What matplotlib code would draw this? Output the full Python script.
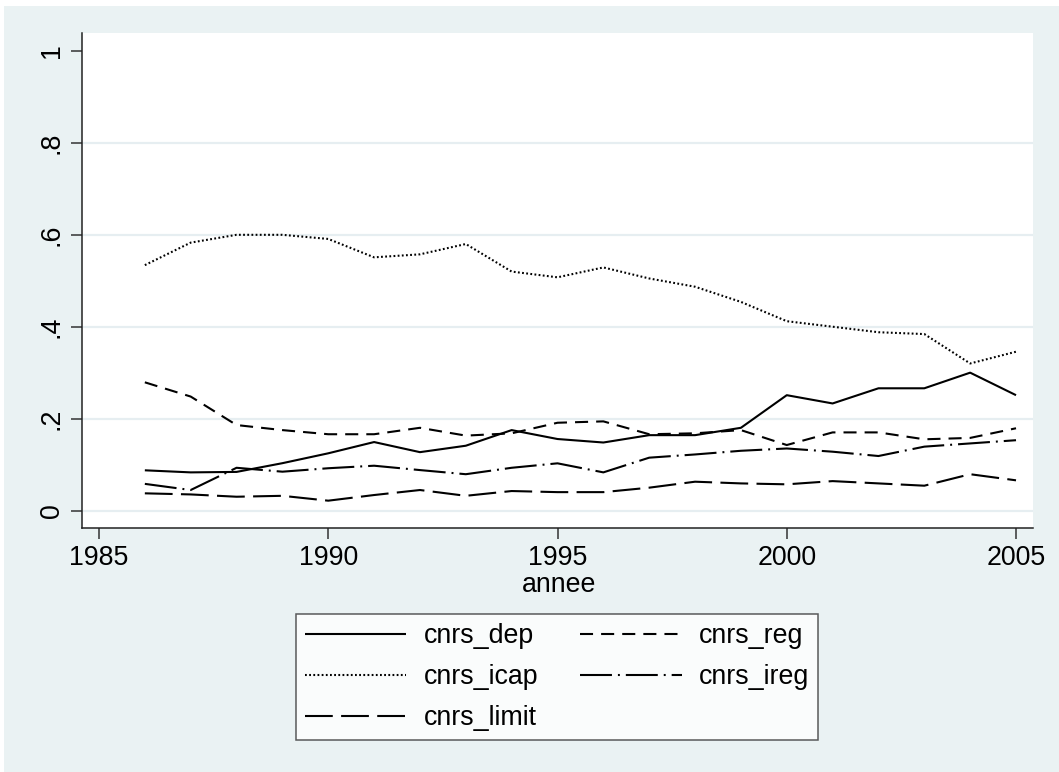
import matplotlib
matplotlib.use("Agg")
import matplotlib.pyplot as plt
from matplotlib.patches import Rectangle

years = list(range(1986, 2006))
cnrs_dep = [0.0875, 0.083, 0.084, 0.103, 0.1245, 0.149, 0.127, 0.141, 0.175, 0.1556,
            0.148, 0.164, 0.164, 0.180, 0.251, 0.233, 0.266, 0.266, 0.300, 0.251]
cnrs_reg = [0.279, 0.248, 0.186, 0.175, 0.166, 0.166, 0.180, 0.163, 0.168, 0.191,
            0.194, 0.166, 0.168, 0.175, 0.1425, 0.170, 0.170, 0.155, 0.158, 0.179]
cnrs_icap = [0.534, 0.583, 0.600, 0.600, 0.591, 0.551, 0.5575, 0.580, 0.520, 0.5075,
             0.529, 0.505, 0.487, 0.454, 0.412, 0.400, 0.388, 0.384, 0.320, 0.3456]
cnrs_ireg = [0.058, 0.0446, 0.093, 0.0845, 0.092, 0.0975, 0.088, 0.079, 0.093, 0.1027,
             0.083, 0.115, 0.122, 0.130, 0.135, 0.128, 0.1186, 0.139, 0.146, 0.153]
cnrs_limit = [0.0374, 0.035, 0.030, 0.032, 0.0214, 0.0337, 0.0446, 0.032, 0.0424, 0.040,
              0.040, 0.0497, 0.0627, 0.059, 0.057, 0.064, 0.059, 0.054, 0.079, 0.0657]

xticks = [1985, 1990, 1995, 2000, 2005]
yticks = [0, 0.2, 0.4, 0.6, 0.8, 1.0]
ytick_labels = ["0", ".2", ".4", ".6", ".8", "1"]
xlabel = "annee"

plt.rcParams['font.family'] = ['Liberation Sans', 'DejaVu Sans']
plt.rcParams['lines.scale_dashes'] = False

W, H = 1059, 772
fig = plt.figure(figsize=(W / 100, H / 100), dpi=100, facecolor='white')
bg = '#EAF2F3'
fig.patches.append(Rectangle((4 / W, 0), 1 - 4 / W, 1 - 6 / H, transform=fig.transFigure,
                             facecolor=bg, edgecolor='none', zorder=-10))

ax = fig.add_axes([82.3 / W, 1 - 527.7 / H, (1033.3 - 82.3) / W, (527.7 - 33) / H])
ax.set_facecolor('white')

lw = 1.5
series = [
    (cnrs_dep, 'cnrs_dep', (0, ())),
    (cnrs_reg, 'cnrs_reg', (0, (9.4, 5.8))),
    (cnrs_icap, 'cnrs_icap', (0, (1.3, 1.7))),
    (cnrs_ireg, 'cnrs_ireg', (0, (23, 4.3, 1.4, 4.3))),
    (cnrs_limit, 'cnrs_limit', (0, (20, 6))),
]
handles = []
for vals, name, ls in series:
    h, = ax.plot(years, vals, color='black', lw=lw, linestyle=ls, label=name,
                 solid_capstyle='butt', dash_capstyle='butt')
    handles.append(h)

ax.set_xlim(1984.636, 2005.377)
ax.set_ylim(-0.0374, 1.0392)
for yv in yticks[:-1]:
    ax.axhline(yv, color='#E6EEF1', lw=1.6, zorder=0)

ax.set_xticks(xticks)
ax.set_xticklabels([str(x) for x in xticks], fontsize=19.3)
ax.set_yticks(yticks)
ax.set_yticklabels(ytick_labels, fontsize=19.3, rotation=90, va='center')
ax.tick_params(axis='both', direction='out', length=7.7, width=1.1, color='#333333')
ax.tick_params(axis='x', pad=5)
ax.tick_params(axis='y', pad=5)
for s in ['top', 'right']:
    ax.spines[s].set_visible(False)
for s in ['left', 'bottom']:
    ax.spines[s].set_color('#222222')
    ax.spines[s].set_linewidth(1.1)

fig.text(559 / W, 1 - 585 / H, xlabel, fontsize=19.3, ha='center', va='center')

order = [handles[0], handles[2], handles[4], handles[1], handles[3]]
leg = fig.legend(order, [h.get_label() for h in order], ncol=2, loc='center',
                 bbox_to_anchor=(557 / W, 1 - 677 / H), fontsize=19.3, frameon=True,
                 fancybox=False, edgecolor='#333333', handlelength=3.8,
                 handletextpad=0.65, columnspacing=1.55, labelspacing=0.56,
                 borderpad=0.33, borderaxespad=0)
leg.get_frame().set_linewidth(1.1)
leg.get_frame().set_facecolor('white')

fig.savefig('out.png', dpi=100, facecolor=fig.get_facecolor())
